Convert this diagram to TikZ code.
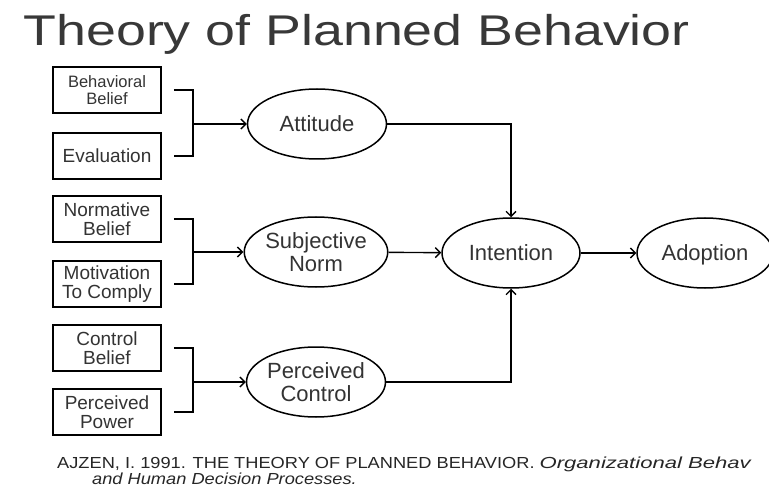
\documentclass[tikz,border=0pt]{standalone}
\usepackage{fontspec}
\setmainfont{Liberation Sans}
\newfontfamily\widefont{Liberation Sans}[FakeStretch=1.25]
\newfontfamily\citefont{Liberation Sans}[FakeStretch=1.14]
\newfontfamily\citeitfont{Liberation Sans Italic}[FakeStretch=1.38]
\usetikzlibrary{shapes.geometric}
\usetikzlibrary{arrows.meta}

\begin{document}
\begin{tikzpicture}[
			     x=1pt, y=-1pt,
			     >={Straight Barb[length=5pt,width=10pt]},
			     belief/.style={draw, line width=1.6pt, minimum width=108pt, minimum height=46pt, inner sep=0pt, align=center, text=black!80, font=\fontsize{19}{19.5}\selectfont},
			     small belief/.style={belief, font=\fontsize{16.5}{16.5}\selectfont},
			     construct/.style={ellipse, draw, line width=1.5pt, minimum width=139pt, minimum height=70pt, inner sep=0pt, align=center, text=black!80, font=\fontsize{22}{23.5}\selectfont},
			     bracket/.style={line width=1.6pt},
			     link/.style={->, line width=1.4pt},
			     cite/.style={anchor=base west, inner sep=0pt, text=black!85}
			     ]
\useasboundingbox (0,0) rectangle (769,500);
\node[anchor=base west, text=black!78, font=\widefont\fontsize{43}{43}\selectfont] (title) at (20,46) {Theory of Planned Behavior};
%
\node[small belief] (bb) at (107,90) {Behavioral\\Belief};
\node[belief] (ev) at (107,156) {Evaluation};
\node[belief] (nb) at (107,219) {Normative\\Belief};
\node[belief] (mc) at (107,284) {Motivation\\To Comply};
\node[belief] (cb) at (107,348) {Control\\Belief};
\node[belief] (pp) at (107,412) {Perceived\\Power};
%
\node[construct] (att) at (317,124) {Attitude};
\node[construct] (sn) at (316,252) {Subjective\\Norm};
\node[construct] (pc) at (316,382) {Perceived\\Control};
\node[construct, minimum width=138pt] (int) at (511,253) {Intention};
\node[construct, minimum width=136pt, text depth=0pt] (adp) at (705,253) {Adoption};
%
\coordinate (j1) at (193,124);
\coordinate (j2) at (193,252);
\coordinate (j3) at (193,382);
\draw[bracket] ([xshift=12pt]bb.east) -| (j1) |- ([xshift=12pt]ev.east);
\draw[bracket] ([xshift=12pt]nb.east) -| (j2) |- ([xshift=12pt]mc.east);
\draw[bracket] ([xshift=12pt]cb.east) -| (j3) |- ([xshift=12pt]pp.east);
\path (j1) edge[link] (att);
\path (j2) edge[link] (sn);
\path (j3) edge[link] (pc);
%
\draw[link] (att.east) -| (int.north);
\draw[link] (pc.east) -| (int.south);
\path (sn) edge[link] (int);
\path (int) edge[link] (adp);
%
\node[cite, font=\citefont\fontsize{16}{16}\selectfont] (cite) at (57,468) {AJZEN, I. 1991. THE THEORY OF PLANNED BEHAVIOR. {\citeitfont Organizational Behav}};
\node[cite, font=\citefont\fontsize{16}{16}\selectfont] (cite2) at (92,484) {\textit{and Human Decision Processes.}};
\end{tikzpicture}
\end{document}
